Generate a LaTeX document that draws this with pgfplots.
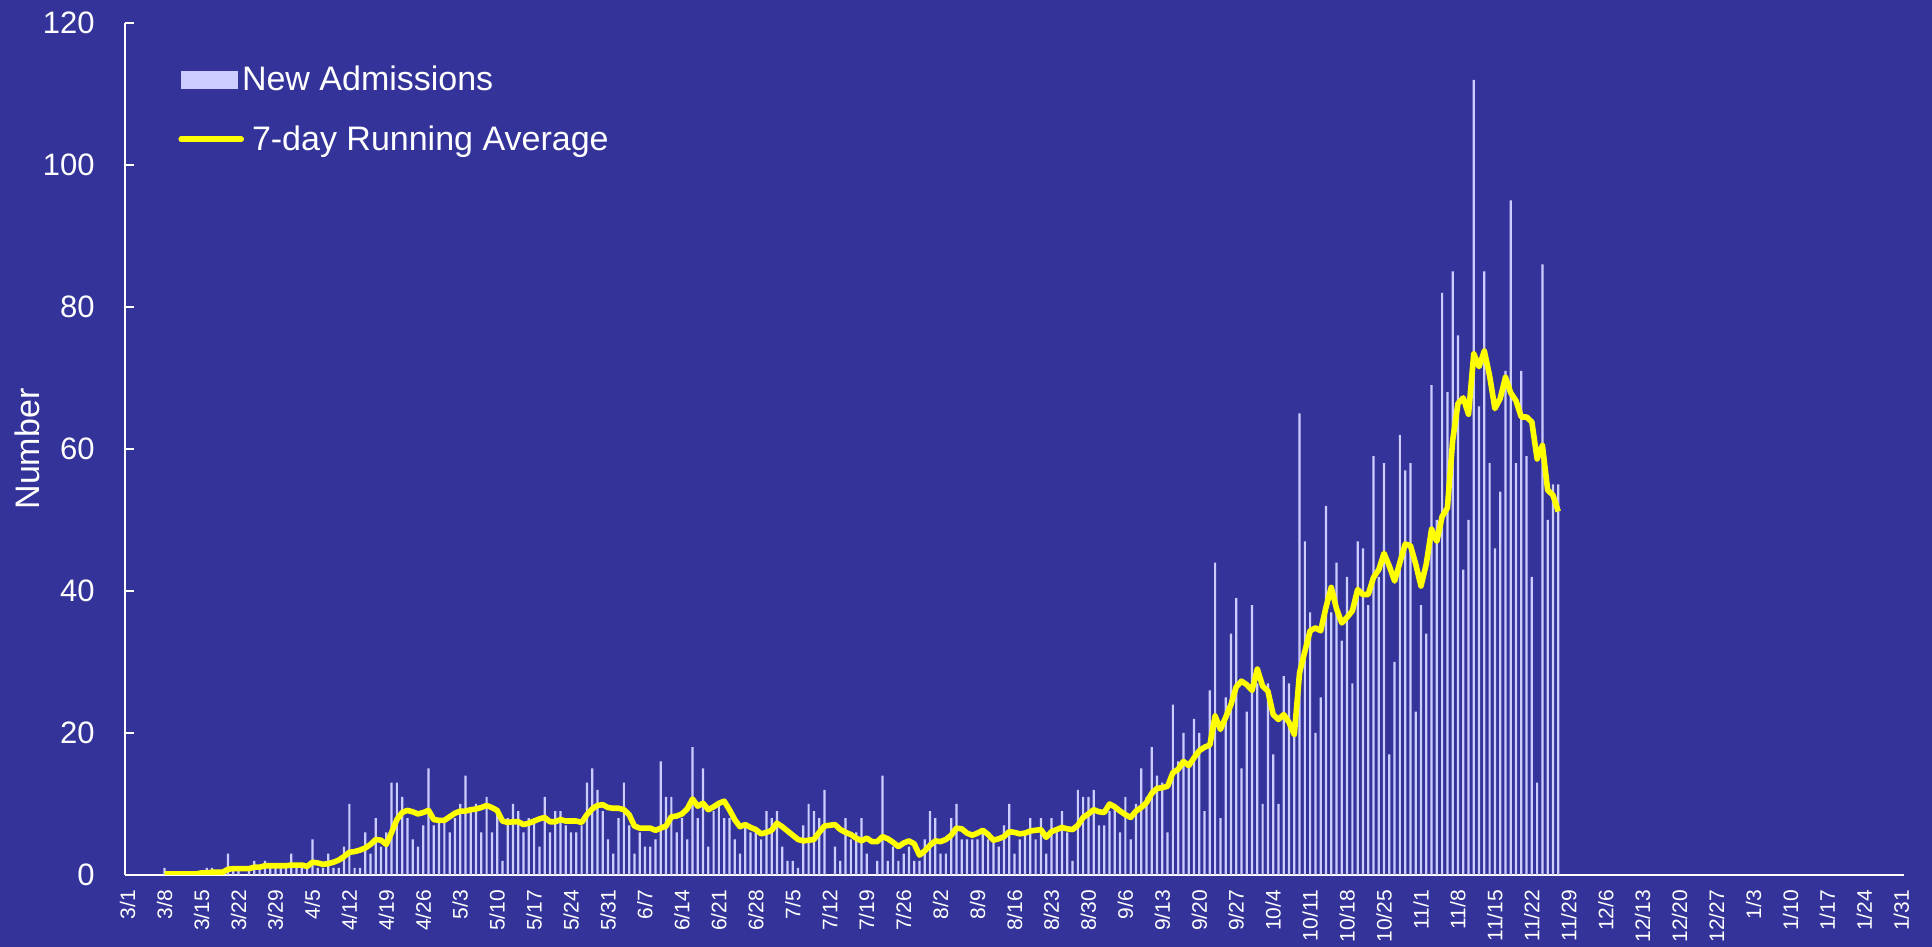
\documentclass[border=0pt]{standalone}
\usepackage{pgfplots}
\pgfplotsset{compat=1.18}
\usepackage{fontspec}
\setmainfont{Liberation Sans}
\definecolor{bg}{RGB}{51,51,153}
\definecolor{barc}{RGB}{204,204,255}
\definecolor{avg}{RGB}{255,255,0}
\begin{document}
\begin{tikzpicture}
\fill[bg] (0,0) rectangle (966pt,473.5pt);
\useasboundingbox (0,0) rectangle (966pt,473.5pt);
\begin{axis}[
  at={(62.5pt,36pt)}, anchor=south west,
  scale only axis, width=889.5pt, height=426pt,
  xmin=-0.5, xmax=336.5, ymin=0, ymax=120,
  axis x line*=bottom, axis y line*=left,
  axis line style={white, line width=1pt},
  xtick={0,7,...,336},
  xticklabels={3/1,3/8,3/15,3/22,3/29,4/5,4/12,4/19,4/26,5/3,5/10,5/17,5/24,5/31,6/7,6/14,6/21,6/28,7/5,7/12,7/19,7/26,8/2,8/9,8/16,8/23,8/30,9/6,9/13,9/20,9/27,10/4,10/11,10/18,10/25,11/1,11/8,11/15,11/22,11/29,12/6,12/13,12/20,12/27,1/3,1/10,1/17,1/24,1/31},
  ytick={0,20,...,120},
  tick style={white, line width=0.8pt},
  tick align=inside,
  x tick style={draw=none},
  major tick length=4.5pt,
  /pgf/number format/assume math mode=true,
  xticklabel style={rotate=90, anchor=east, font=\fontsize{10.5}{12}\selectfont, text=white},
  xticklabel shift=4pt,
  yticklabel style={font=\fontsize{15.5}{18}\selectfont, text=white},
  yticklabel shift=11.7pt,
  ylabel={Number},
  ylabel style={at={(axis description cs:-0.055,0.5)}, anchor=center, font=\fontsize{17}{20}\selectfont, text=white},
  legend style={at={(0.0298,0.955)}, anchor=north west, draw=none, fill=none, text=white,
    font=\fontsize{17}{20}\selectfont, inner sep=0pt, row sep=12pt},
  legend cell align=left,
]
\addplot[ybar, bar width=0.42, fill=barc, draw=none,
  legend image code/.code={\fill[barc] (0pt,-4.5pt) rectangle (28.5pt,4.5pt);}]
coordinates {(7,1)(15,1)(16,1)(19,3)(20,1)(21,1)(23,1)(24,2)(25,1)(26,2)(27,1)(28,1)(29,1)(30,1)(31,3)(32,1)(33,1)(34,1)(35,5)(36,1)(37,1)(38,3)(39,1)(40,1)(41,4)(42,10)(43,1)(44,1)(45,6)(46,3)(47,8)(48,4)(49,6)(50,13)(51,13)(52,11)(53,8)(54,5)(55,4)(56,7)(57,15)(58,7)(59,8)(60,8)(61,6)(62,8)(63,10)(64,14)(65,9)(66,10)(67,6)(68,11)(69,6)(70,9)(71,2)(72,8)(73,10)(74,9)(75,6)(76,8)(77,8)(78,4)(79,11)(80,6)(81,9)(82,9)(83,7)(84,6)(85,6)(86,7)(87,13)(88,15)(89,12)(90,9)(91,5)(92,3)(93,8)(94,13)(95,7)(96,3)(97,6)(98,4)(99,4)(100,5)(101,16)(102,11)(103,11)(104,6)(105,8)(106,5)(107,18)(108,8)(109,15)(110,4)(111,9)(112,10)(113,8)(114,8)(115,5)(116,3)(117,7)(118,6)(119,6)(120,5)(121,9)(122,8)(123,9)(124,4)(125,2)(126,2)(127,1)(128,7)(129,10)(130,9)(131,8)(132,12)(134,4)(135,2)(136,8)(137,5)(138,6)(139,8)(140,3)(142,2)(143,14)(144,2)(145,4)(146,2)(147,3)(148,4)(149,2)(150,2)(151,5)(152,9)(153,8)(154,3)(155,3)(156,8)(157,10)(158,5)(159,5)(160,5)(161,5)(162,6)(163,5)(164,5)(165,4)(166,7)(167,10)(168,3)(169,5)(170,6)(171,8)(172,5)(173,8)(174,3)(175,8)(176,6)(177,9)(178,6)(179,2)(180,12)(181,11)(182,11)(183,12)(184,7)(185,7)(186,9)(187,10)(188,6)(189,11)(190,5)(191,10)(192,15)(193,11)(194,18)(195,14)(196,13)(197,6)(198,24)(199,16)(200,20)(201,16)(202,22)(203,20)(204,9)(205,26)(206,44)(207,8)(208,25)(209,34)(210,39)(211,15)(212,23)(213,38)(214,27)(215,10)(216,27)(217,17)(218,10)(219,28)(220,27)(221,20)(222,65)(223,47)(224,37)(225,20)(226,25)(227,52)(228,37)(229,44)(230,33)(231,42)(232,27)(233,47)(234,46)(235,38)(236,59)(237,42)(238,58)(239,17)(240,30)(241,62)(242,57)(243,58)(244,23)(245,38)(246,34)(247,69)(248,50)(249,82)(250,68)(251,85)(252,76)(253,43)(254,50)(255,112)(256,66)(257,85)(258,58)(259,46)(260,54)(261,71)(262,95)(263,58)(264,71)(265,59)(266,42)(267,13)(268,86)(269,50)(270,55)(271,55)};
\addlegendentry{\hspace{-3pt}New Admissions}
\addplot[avg, line width=2.8pt, line join=round, mark=none,
  legend image code/.code={\draw[avg, line width=2.8pt, line cap=round] (0pt,0pt) -- (30pt,0pt);}]
coordinates {(7,0.15)(8,0.15)(9,0.15)(10,0.15)(11,0.15)(12,0.15)(13,0.15)(14,0.3)(15,0.3)(16,0.4)(17,0.4)(18,0.4)(19,0.8)(20,0.9)(21,0.9)(22,0.9)(23,0.9)(24,1.1)(25,1.1)(26,1.3)(27,1.3)(28,1.3)(29,1.3)(30,1.3)(31,1.4)(32,1.4)(33,1.4)(34,1.2)(35,1.8)(36,1.7)(37,1.5)(38,1.6)(39,1.8)(40,2.1)(41,2.6)(42,3.2)(43,3.3)(44,3.5)(45,3.8)(46,4.3)(47,5.0)(48,4.9)(49,4.3)(50,6.0)(51,7.8)(52,8.8)(53,9.1)(54,8.9)(55,8.6)(56,8.8)(57,9.1)(58,7.8)(59,7.7)(60,7.7)(61,8.2)(62,8.7)(63,9.0)(64,9.0)(65,9.2)(66,9.3)(67,9.5)(68,9.8)(69,9.5)(70,9.1)(71,7.6)(72,7.4)(73,7.5)(74,7.5)(75,7.1)(76,7.3)(77,7.6)(78,7.9)(79,8.1)(80,7.5)(81,7.5)(82,7.8)(83,7.6)(84,7.6)(85,7.6)(86,7.4)(87,8.5)(88,9.3)(89,9.8)(90,9.9)(91,9.5)(92,9.4)(93,9.4)(94,9.2)(95,8.5)(96,6.9)(97,6.6)(98,6.6)(99,6.6)(100,6.3)(101,6.6)(102,6.9)(103,8.2)(104,8.3)(105,8.6)(106,9.3)(107,10.7)(108,9.7)(109,10.1)(110,9.2)(111,9.6)(112,10.1)(113,10.4)(114,9.2)(115,7.8)(116,6.8)(117,7.1)(118,6.7)(119,6.4)(120,5.8)(121,6.0)(122,6.3)(123,7.3)(124,6.8)(125,6.2)(126,5.6)(127,5.0)(128,4.8)(129,4.9)(130,5.0)(131,6.0)(132,6.9)(133,7.0)(134,7.1)(135,6.4)(136,6.0)(137,5.7)(138,5.2)(139,4.8)(140,5.2)(141,4.7)(142,4.7)(143,5.4)(144,5.1)(145,4.6)(146,4.0)(147,4.5)(148,4.8)(149,4.4)(150,2.8)(151,3.4)(152,4.2)(153,4.8)(154,4.7)(155,5.0)(156,5.6)(157,6.6)(158,6.5)(159,5.9)(160,5.6)(161,5.9)(162,6.3)(163,5.7)(164,4.9)(165,5.1)(166,5.4)(167,6.1)(168,6.0)(169,5.8)(170,5.9)(171,6.2)(172,6.3)(173,6.4)(174,5.3)(175,6.1)(176,6.4)(177,6.7)(178,6.5)(179,6.4)(180,7.0)(181,8.1)(182,8.6)(183,9.2)(184,8.9)(185,8.8)(186,10.0)(187,9.6)(188,9.0)(189,8.5)(190,8.1)(191,9.0)(192,9.5)(193,10.2)(194,11.5)(195,12.2)(196,12.3)(197,12.5)(198,14.4)(199,14.9)(200,16.0)(201,15.4)(202,16.5)(203,17.5)(204,18.0)(205,18.3)(206,22.4)(207,20.5)(208,22.2)(209,24.0)(210,26.5)(211,27.3)(212,26.8)(213,26.0)(214,29.0)(215,26.6)(216,25.9)(217,22.6)(218,21.9)(219,22.6)(220,21.5)(221,19.8)(222,28.5)(223,31.5)(224,34.4)(225,34.8)(226,34.4)(227,37.7)(228,40.5)(229,37.5)(230,35.5)(231,36.3)(232,37.2)(233,40.2)(234,39.5)(235,39.5)(236,41.9)(237,43.0)(238,45.3)(239,43.5)(240,41.4)(241,44.0)(242,46.6)(243,46.4)(244,43.8)(245,40.7)(246,43.8)(247,48.7)(248,47.0)(249,50.5)(250,51.7)(251,61.2)(252,66.4)(253,67.2)(254,64.9)(255,73.4)(256,71.6)(257,73.8)(258,70.3)(259,65.7)(260,67.1)(261,70.1)(262,67.9)(263,66.8)(264,64.5)(265,64.5)(266,63.8)(267,58.6)(268,60.5)(269,54.2)(270,53.5)(271,51.2)};
\addlegendentry{\hspace{2pt}7-day Running Average}
\end{axis}
\end{tikzpicture}
\end{document}
